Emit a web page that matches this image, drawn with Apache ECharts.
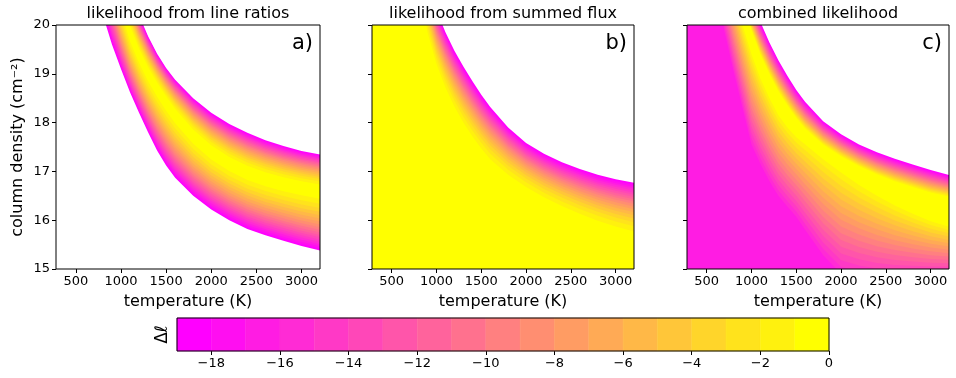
<!DOCTYPE html>
<html>
<head>
<meta charset="utf-8">
<script src="https://cdn.jsdelivr.net/npm/echarts@6/dist/echarts.min.js"></script>
<style>
html, body { margin: 0; padding: 0; background: #fff; }
#main { width: 956px; height: 378px; }
</style>
</head>
<body>
<div id="main"></div>
<script>
// temperature samples (K) shared by all contour curves
var temps = [200, 400, 600, 700, 800, 900, 1000, 1100, 1200, 1300, 1400, 1500, 1600, 1800, 2000, 2200, 2400, 2600, 2800, 3000, 3220];

// a) line ratios: ridge (dl = 0) and the dl = -19 edges, log column density
var ratioLow19 = [30, 26, 22.0, 21.0, 20.2, 19.6, 19.1, 18.62, 18.2, 17.8, 17.43, 17.12, 16.87, 16.5, 16.22, 16.0, 15.82, 15.69, 15.58, 15.47, 15.37];
var ratioRidge = [33, 29, 25, 24, 22.5, 21.4, 20.5, 19.85, 19.4, 19.03, 18.72, 18.44, 18.18, 17.75, 17.42, 17.18, 17.0, 16.87, 16.77, 16.69, 16.62];
var ratioUp19  = [35, 31, 27, 25.5, 24, 22.6, 21.4, 20.72, 20.2, 19.77, 19.41, 19.12, 18.88, 18.5, 18.2, 17.97, 17.79, 17.64, 17.52, 17.42, 17.34];

// b) summed flux: edge of the flat part (dl = -1) and the dl = -19 edge
var fluxIn1  = [30, 26.5, 23, 22, 20.8, 19.85, 19.2, 18.72, 18.33, 18.0, 17.72, 17.47, 17.25, 16.93, 16.68, 16.47, 16.29, 16.13, 15.99, 15.87, 15.76];
var fluxUp19 = [32, 28.5, 25, 23.5, 22.2, 21.0, 20.3, 19.85, 19.47, 19.15, 18.85, 18.57, 18.32, 17.9, 17.58, 17.36, 17.19, 17.05, 16.93, 16.84, 16.76];

// c) combined: yellow core (dl = -1) both sides, outer edge above, dl = -16 below
var combLow16 = [27, 23.5, 20.8, 19.85, 19.05, 18.3, 17.55, 17.15, 16.8, 16.5, 16.28, 16.07, 15.8, 15.28, 14.9, 14.82, 14.78, 14.78, 14.8, 14.82, 14.85];
var combLow1  = [29, 25.5, 22.5, 21.5, 20.7, 20.0, 19.4, 18.9, 18.5, 18.15, 17.9, 17.7, 17.55, 17.25, 16.98, 16.72, 16.5, 16.3, 16.13, 15.98, 15.86];
var combUp1   = [31, 27.5, 24.2, 22.9, 21.6, 20.65, 19.9, 19.4, 19.0, 18.65, 18.36, 18.1, 17.88, 17.55, 17.31, 17.11, 16.94, 16.8, 16.68, 16.57, 16.48];
var combUp19  = [32, 28.5, 25, 23.6, 22.3, 21.2, 20.5, 20.06, 19.64, 19.28, 18.96, 18.67, 18.42, 18.03, 17.76, 17.55, 17.39, 17.26, 17.14, 17.03, 16.92];

var levels = [19, 18, 17, 16, 15, 14, 13, 12, 11, 10, 9, 8, 7, 6, 5, 4, 3, 2, 1];
var cbLevels = [-19, -18, -17, -16, -15, -14, -13, -12, -11, -10, -9, -8, -7, -6, -5, -4, -3, -2, -1];
var cbTicks = [-18, -16, -14, -12, -10, -8, -6, -4, -2, 0];
var xTicks = [500, 1000, 1500, 2000, 2500, 3000];
var titles = ['likelihood from line ratios', 'likelihood from summed flux', 'combined likelihood'];
var letters = ['a)', 'b)', 'c)'];

var FONT = 'DejaVu Sans';
var FLOOR = 10;

// matplotlib "spring": band 0 magenta .. band 18 yellow
function bandColor(i) {
    var t = i / 18;
    return 'rgb(255,' + Math.round(255 * t) + ',' + Math.round(255 * (1 - t)) + ')';
}

// contour of level -k on one side: [inner curve, outer curve, kInner, kOuter, spacing power]
function contour(side, k) {
    if (!side) return temps.map(function () { return FLOOR; });
    var inner = side[0], outer = side[1], kIn = side[2], kOut = side[3], p = side[4];
    if (k > kOut) return temps.map(function () { return FLOOR; });
    var f = (Math.pow(k, p) - Math.pow(kIn, p)) / (Math.pow(kOut, p) - Math.pow(kIn, p));
    return inner.map(function (v, j) { return v + (outer[j] - v) * f; });
}

var panels = [
    { up: [ratioRidge, ratioUp19, 0, 19, 0.65], low: [ratioRidge, ratioLow19, 0, 19, 0.65] },
    { up: [fluxIn1, fluxUp19, 1, 19, 0.6], low: null },
    { up: [combUp1, combUp19, 1, 19, 1], low: [combLow1, combLow16, 1, 16, 1] }
];

var grids = [
    { left: 56, top: 25, width: 264, height: 244 },
    { left: 372, top: 25, width: 262, height: 244 },
    { left: 687, top: 25, width: 262, height: 244 }
];

var myChart = echarts.init(document.getElementById('main'));

var option = {
    backgroundColor: '#fff',
    animation: false,
    title: [],
    grid: [],
    xAxis: [],
    yAxis: [],
    series: []
};

grids.forEach(function (g, i) {
    option.grid.push({
        left: g.left, top: g.top, width: g.width, height: g.height,
        show: true, borderColor: '#000', borderWidth: 1, z: 10
    });
    option.title.push({
        text: titles[i], left: g.left + g.width / 2, top: 6, padding: 0, textAlign: 'center',
        textStyle: { fontSize: 16, fontWeight: 'normal', color: '#000', fontFamily: FONT }
    });
    option.title.push({
        text: letters[i], left: g.left + g.width - 7, top: 33, padding: 0, textAlign: 'right',
        textStyle: { fontSize: 21, fontWeight: 'normal', color: '#000', fontFamily: FONT }
    });
    option.xAxis.push({
        type: 'value', gridIndex: i, min: 280, max: 3205,
        axisLine: { show: false }, splitLine: { show: false },
        axisTick: { show: true, customValues: xTicks, length: 4, lineStyle: { color: '#000' } },
        axisLabel: {
            customValues: xTicks, color: '#000', fontSize: 13, margin: 6, fontFamily: FONT,
            formatter: function (v) { return String(v); }
        },
        name: 'temperature (K)', nameLocation: 'middle', nameGap: 25,
        nameTextStyle: { fontSize: 16, color: '#000', fontFamily: FONT }
    });
    option.yAxis.push({
        type: 'value', gridIndex: i, min: 15, max: 20, interval: 1,
        axisLine: { show: false }, splitLine: { show: false },
        axisTick: { show: true, length: 4, lineStyle: { color: '#000' } },
        axisLabel: { show: i === 0, color: '#000', fontSize: 13, margin: 6, fontFamily: FONT },
        name: i === 0 ? 'column density (cm\u207B\u00B2)' : '', nameLocation: 'middle', nameGap: 30,
        nameTextStyle: { fontSize: 16, color: '#000', fontFamily: FONT }
    });
    var spec = panels[i];
    option.series.push({
        type: 'custom',
        xAxisIndex: i, yAxisIndex: i,
        clip: true, silent: true,
        data: levels.map(function (k) { return [k]; }),
        renderItem: function (params, api) {
            var k = api.value(0);
            var up = contour(spec.up, k);
            var low = contour(spec.low, k);
            var pts = [];
            for (var j = 0; j < temps.length; j++) pts.push(api.coord([temps[j], up[j]]));
            for (var j2 = temps.length - 1; j2 >= 0; j2--) pts.push(api.coord([temps[j2], low[j2]]));
            return { type: 'polygon', shape: { points: pts }, style: { fill: bandColor(19 - k), stroke: null } };
        }
    });
});

// colour bar
option.grid.push({ left: 177, top: 318, width: 652, height: 33, show: true, borderColor: '#000', borderWidth: 1, z: 10 });
option.xAxis.push({
    type: 'value', gridIndex: 3, min: -19, max: 0,
    axisLine: { show: false }, splitLine: { show: false },
    axisTick: { show: true, customValues: cbTicks, length: 4, lineStyle: { color: '#000' } },
    axisLabel: {
        customValues: cbTicks, color: '#000', fontSize: 13, margin: 6, fontFamily: FONT,
        formatter: function (v) { return String(v).replace('-', '\u2212'); }
    }
});
option.yAxis.push({
    type: 'value', gridIndex: 3, min: 0, max: 1,
    axisLine: { show: false }, splitLine: { show: false }, axisTick: { show: false }, axisLabel: { show: false },
    name: '\u0394\u2113', nameLocation: 'middle', nameGap: 6,
    nameTextStyle: { fontSize: 17, color: '#000', fontFamily: FONT }
});
option.series.push({
    type: 'custom', xAxisIndex: 3, yAxisIndex: 3, silent: true,
    data: cbLevels.map(function (v) { return [v]; }),
    renderItem: function (params, api) {
        var v = api.value(0);
        var p0 = api.coord([v, 1]);
        var p1 = api.coord([v + 1, 0]);
        return {
            type: 'rect',
            shape: { x: p0[0], y: p0[1], width: p1[0] - p0[0], height: p1[1] - p0[1] },
            style: { fill: bandColor(v + 19), stroke: bandColor(v + 19), lineWidth: 0.5 }
        };
    }
});

myChart.setOption(option);
</script>
</body>
</html>
